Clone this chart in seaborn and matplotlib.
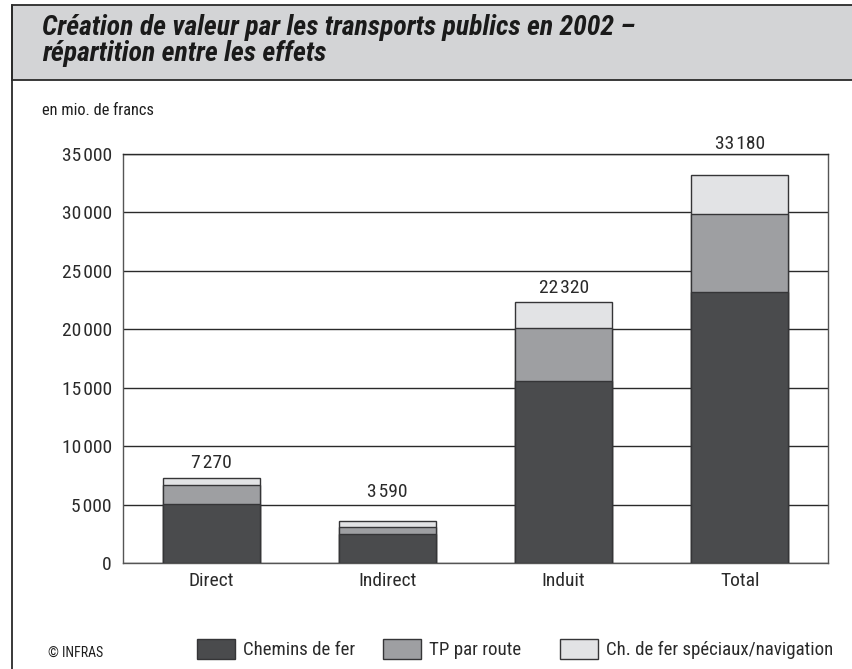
import matplotlib
matplotlib.use("Agg")
import matplotlib.pyplot as plt
from matplotlib.patches import Rectangle, Patch
from matplotlib.lines import Line2D
import pandas as pd
import seaborn as sns

# Values in millions of francs
categories = ["Direct", "Indirect", "Induit", "Total"]
chemins_de_fer = [5090, 2520, 15600, 23210]
tp_par_route = [1600, 560, 4490, 6650]
speciaux_navigation = [580, 510, 2230, 3320]
totals = [7270, 3590, 22320, 33180]
series_names = ["Chemins de fer", "TP par route", "Ch. de fer spéciaux/navigation"]
y_ticks = [0, 5000, 10000, 15000, 20000, 25000, 30000, 35000]

# Gap (points) between each bar top and its total label
label_gap_pt = [7.2, 17.3, 6.5, 18.7]

colors = ["#4a4b4d", "#9e9fa2", "#e2e3e5"]
edge = "#353537"
W, H = 852, 669

sns.set_theme(style="white")
plt.rcParams["font.family"] = ["Roboto Condensed", "DejaVu Sans"]
plt.rcParams["text.color"] = "#1e1e1e"


def fx(px):
    return px / W


def fy(py):
    return (H - py) / H


def thin(v):
    return f"{v:,}".replace(",", "\u200a")


df = pd.DataFrame({
    "cat": categories,
    "c1": chemins_de_fer,
    "c2": tp_par_route,
    "c3": speciaux_navigation,
})
df["cum1"] = df["c1"]
df["cum2"] = df["c1"] + df["c2"]
df["cum3"] = df["c1"] + df["c2"] + df["c3"]

fig = plt.figure(figsize=(W / 100, H / 100), dpi=100)
fig.patch.set_facecolor("white")

# Header band and left frame line
fig.patches.append(Rectangle((fx(12), fy(80)), 1, 75 / H,
                             transform=fig.transFigure, facecolor="#d3d4d6",
                             edgecolor="#2a2a2a", linewidth=1.3, zorder=0))
fig.lines.append(Line2D([fx(12), fx(12)], [0, fy(5)],
                        transform=fig.transFigure, color="#2a2a2a", linewidth=1.3))

# Two-line header; baseline anchor sits on the second line
fig.text(fx(42), fy(61),
         "Création de valeur par les transports publics en 2002 –\nrépartition entre les effets",
         fontsize=20, fontweight="bold", fontstyle="italic", ha="left", va="baseline",
         linespacing=0.95, color="#1a1a1a")
fig.text(fx(42), fy(115), "en mio. de francs", fontsize=11.8, ha="left", va="baseline")
fig.text(fx(48), fy(653), "© INFRAS", fontsize=10, ha="left", va="center")

ax = fig.add_axes([fx(123), fy(563), (828 - 123) / W, (563 - 154) / H])

# Stacked bars drawn as overlapping cumulative layers
for col, c in zip(["cum3", "cum2", "cum1"], colors[::-1]):
    sns.barplot(data=df, x="cat", y=col, color=c, width=0.55, saturation=1,
                edgecolor=edge, linewidth=1.0, ax=ax, zorder=3)

for i, (t, gap) in enumerate(zip(totals, label_gap_pt)):
    ax.annotate(thin(t), (i, t), xytext=(0, gap), textcoords="offset points",
                ha="center", va="baseline", fontsize=14, color="#2a2a2a")

ax.set_xlim(-0.5, 3.5)
ax.set_ylim(0, 35000)
ax.set_yticks(y_ticks)
ax.set_yticklabels([thin(v) for v in y_ticks])
ax.set_xlabel("")
ax.set_ylabel("")
ax.set_axisbelow(True)
ax.yaxis.grid(True, color="#2a2a2a", linewidth=1.0)
ax.xaxis.grid(False)

ax.set_xticks([-0.5, 0.5, 1.5, 2.5, 3.5], minor=True)
ax.tick_params(axis="x", which="minor", length=9, width=1, color="#555555", direction="out")
ax.tick_params(axis="x", which="major", length=0, pad=6.5, labelsize=14, labelcolor="#2a2a2a")
ax.tick_params(axis="y", length=0, pad=8, labelsize=14, labelcolor="#2a2a2a")

for s in ["left", "right", "bottom", "top"]:
    ax.spines[s].set_visible(True)
    ax.spines[s].set_linewidth(1.0)
    ax.spines[s].set_color("#555555")
ax.spines["top"].set_color("#2a2a2a")

# Legend entries placed along the bottom row
legend_x = [197, 383, 560]
for name, c, x0 in zip(series_names, colors, legend_x):
    fig.legend([Patch(facecolor=c, edgecolor=edge, linewidth=1.0)], [name],
               loc="center left", bbox_to_anchor=(fx(x0), fy(649)), frameon=False,
               fontsize=13.6, handlelength=2.0, handleheight=1.3, handletextpad=0.45,
               borderpad=0, borderaxespad=0, labelcolor="#2a2a2a")

fig.savefig("out.png", dpi=100, facecolor="white")
